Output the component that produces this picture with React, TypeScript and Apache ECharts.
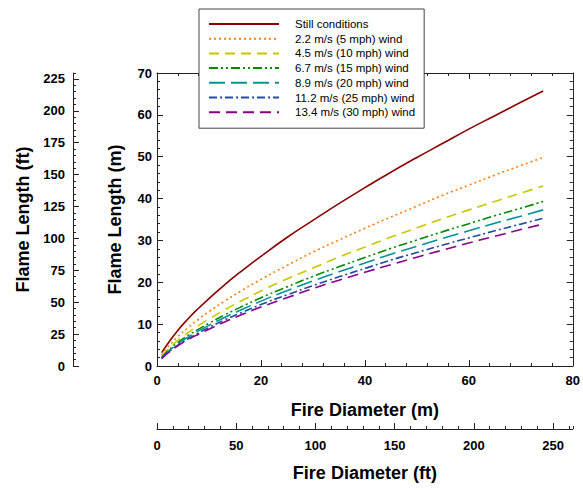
import React, { useEffect, useRef } from "react";
import * as echarts from "echarts";

const diameterM = [0.9, 2, 4, 6, 8, 10, 13, 16, 20, 25, 30, 35, 40, 45, 50, 55, 60, 65, 70, 74.3];
const still = [3.2, 5.2, 8.5, 11.3, 13.8, 16.1, 19.4, 22.4, 26.2, 30.7, 34.8, 38.8, 42.6, 46.3, 49.8, 53.2, 56.6, 59.8, 63.0, 65.7];
const wind22 = [2.6, 4.4, 7.0, 9.2, 11.2, 13.0, 15.5, 17.8, 20.7, 24.0, 27.2, 30.1, 32.9, 35.6, 38.2, 40.8, 43.2, 45.6, 47.9, 49.8];
const wind45 = [2.2, 3.8, 6.1, 8.0, 9.7, 11.2, 13.4, 15.4, 17.9, 20.8, 23.4, 26.0, 28.4, 30.8, 33.0, 35.2, 37.3, 39.3, 41.3, 43.0];
const wind67 = [2.0, 3.5, 5.6, 7.3, 8.8, 10.2, 12.2, 14.0, 16.3, 18.9, 21.4, 23.7, 25.9, 28.1, 30.1, 32.1, 34.0, 35.9, 37.7, 39.3];
const wind89 = [1.9, 3.3, 5.3, 6.9, 8.4, 9.7, 11.6, 13.3, 15.5, 18.0, 20.3, 22.5, 24.6, 26.7, 28.6, 30.5, 32.3, 34.1, 35.8, 37.3];
const wind112 = [1.8, 3.1, 5.0, 6.5, 7.9, 9.2, 11.0, 12.6, 14.7, 17.0, 19.2, 21.3, 23.3, 25.3, 27.1, 28.9, 30.6, 32.3, 33.9, 35.3];
const wind134 = [1.8, 3.0, 4.8, 6.3, 7.6, 8.8, 10.5, 12.1, 14.1, 16.3, 18.5, 20.5, 22.4, 24.2, 26.0, 27.7, 29.4, 31.0, 32.6, 33.9];

const seriesNames = [
  "Still conditions",
  "2.2 m/s (5 mph) wind",
  "4.5 m/s (10 mph) wind",
  "6.7 m/s (15 mph) wind",
  "8.9 m/s (20 mph) wind",
  "11.2 m/s (25 mph) wind",
  "13.4 m/s (30 mph) wind",
];
const seriesValues = [still, wind22, wind45, wind67, wind89, wind112, wind134];
const seriesColors = ["#8b0000", "#ff7f0e", "#c8c800", "#008c00", "#00939a", "#1f4f9f", "#8b008b"];
const seriesDash: any[] = ["solid", [2, 3], [10, 6], [9, 3, 2, 3, 2, 3], [16, 6], [8, 3, 2, 3], [11, 6]];

const M_TO_FT = 3.28084;
const X_MAX_M = 80;
const Y_MAX_M = 70;

const FONT = 'Arial, "Liberation Sans", sans-serif';

export default function App() {
  const ref = useRef<HTMLDivElement>(null);
  useEffect(() => {
    if (!ref.current) return;
    const chart = echarts.init(ref.current, undefined, { renderer: "svg" });
    const axisLine = { show: true, onZero: false, lineStyle: { color: "#222", width: 1 } };
    const noLine = { show: false, onZero: false };
    const lbl = { color: "#000", fontWeight: "bold" as const, fontSize: 13, fontFamily: FONT };
    const nameStyle = { color: "#000", fontWeight: "bold" as const, fontSize: 18, fontFamily: FONT };
    const majorTick = { show: true, inside: true, length: 6, lineStyle: { color: "#222" } };
    const minorTick = { show: true, length: 3, lineStyle: { color: "#222" } };
    const smallTick = { show: true, inside: true, length: 3, lineStyle: { color: "#222" } };

    const option: any = {
      animation: false,
      backgroundColor: "#fff",
      textStyle: { fontFamily: FONT },
      grid: { left: 157, top: 73, width: 420, height: 293, containLabel: false },
      legend: {
        orient: "vertical",
        left: 199,
        top: 9,
        width: 225,
        padding: [8, 9, 9, 9],
        backgroundColor: "#fff",
        borderColor: "#444",
        borderWidth: 1,
        itemWidth: 70,
        itemHeight: 14,
        itemGap: 0.7,
        z: 10,
        itemStyle: { opacity: 0 },
        textStyle: { fontSize: 11.5, color: "#000", fontFamily: FONT, lineHeight: 14, padding: [0, 0, 0, 11] },
        data: seriesNames,
      },
      xAxis: [
        {
          type: "value", position: "bottom", min: 0, max: X_MAX_M, interval: 20,
          axisLine, axisTick: majorTick, minorTick: { ...minorTick, splitNumber: 5 },
          splitLine: { show: false }, minorSplitLine: { show: false },
          axisLabel: { ...lbl, margin: 8 },
          name: "Fire Diameter (m)", nameLocation: "middle", nameGap: 35, nameTextStyle: nameStyle,
        },
        {
          type: "value", position: "top", min: 0, max: X_MAX_M, interval: 20,
          axisLine, axisTick: majorTick, minorTick: { ...minorTick, splitNumber: 5 },
          splitLine: { show: false }, axisLabel: { show: false },
        },
        {
          type: "value", position: "bottom", offset: 63, min: 0, max: X_MAX_M * M_TO_FT, interval: 50,
          axisLine, axisTick: majorTick, splitLine: { show: false },
          axisLabel: { ...lbl, margin: 10, showMaxLabel: false },
          name: "Fire Diameter (ft)", nameLocation: "middle", nameGap: 35, nameTextStyle: nameStyle,
        },
        {
          type: "value", position: "bottom", offset: 63, min: 0, max: X_MAX_M * M_TO_FT, interval: 10,
          axisLine: noLine, axisTick: smallTick,
          splitLine: { show: false }, axisLabel: { show: false },
        },
      ],
      yAxis: [
        {
          type: "value", position: "left", min: 0, max: Y_MAX_M, interval: 10,
          axisLine, axisTick: majorTick, minorTick: { ...minorTick, splitNumber: 5 },
          splitLine: { show: false }, minorSplitLine: { show: false },
          axisLabel: { ...lbl, margin: 5 },
          name: "Flame Length (m)", nameLocation: "middle", nameGap: 33, nameTextStyle: nameStyle,
        },
        {
          type: "value", position: "right", min: 0, max: Y_MAX_M, interval: 10,
          axisLine, axisTick: majorTick, minorTick: { ...minorTick, splitNumber: 5 },
          splitLine: { show: false }, axisLabel: { show: false },
        },
        {
          type: "value", position: "left", offset: 84, min: 0, max: Y_MAX_M * M_TO_FT, interval: 25,
          axisLine, axisTick: majorTick, splitLine: { show: false },
          axisLabel: { ...lbl, margin: 8, showMaxLabel: false },
          name: "Flame Length (ft)", nameLocation: "middle", nameGap: 40, nameTextStyle: nameStyle,
        },
        {
          type: "value", position: "left", offset: 84, min: 0, max: Y_MAX_M * M_TO_FT, interval: 5,
          axisLine: noLine, axisTick: smallTick,
          splitLine: { show: false }, axisLabel: { show: false },
        },
      ],
      series: seriesNames.map((name, i) => ({
        name,
        type: "line",
        xAxisIndex: 0,
        yAxisIndex: 0,
        showSymbol: false,
        symbol: "none",
        smooth: true,
        data: diameterM.map((x, j) => [x, seriesValues[i][j]]),
        itemStyle: { color: seriesColors[i] },
        lineStyle: { color: seriesColors[i], width: 1.6, type: seriesDash[i] },
        z: 2,
      })),
    };
    chart.setOption(option);
    return () => chart.dispose();
  }, []);
  return (
    <div
      ref={ref}
      style={{ position: "fixed", left: 0, top: 0, width: 583, height: 490, background: "#fff" }}
    />
  );
}
